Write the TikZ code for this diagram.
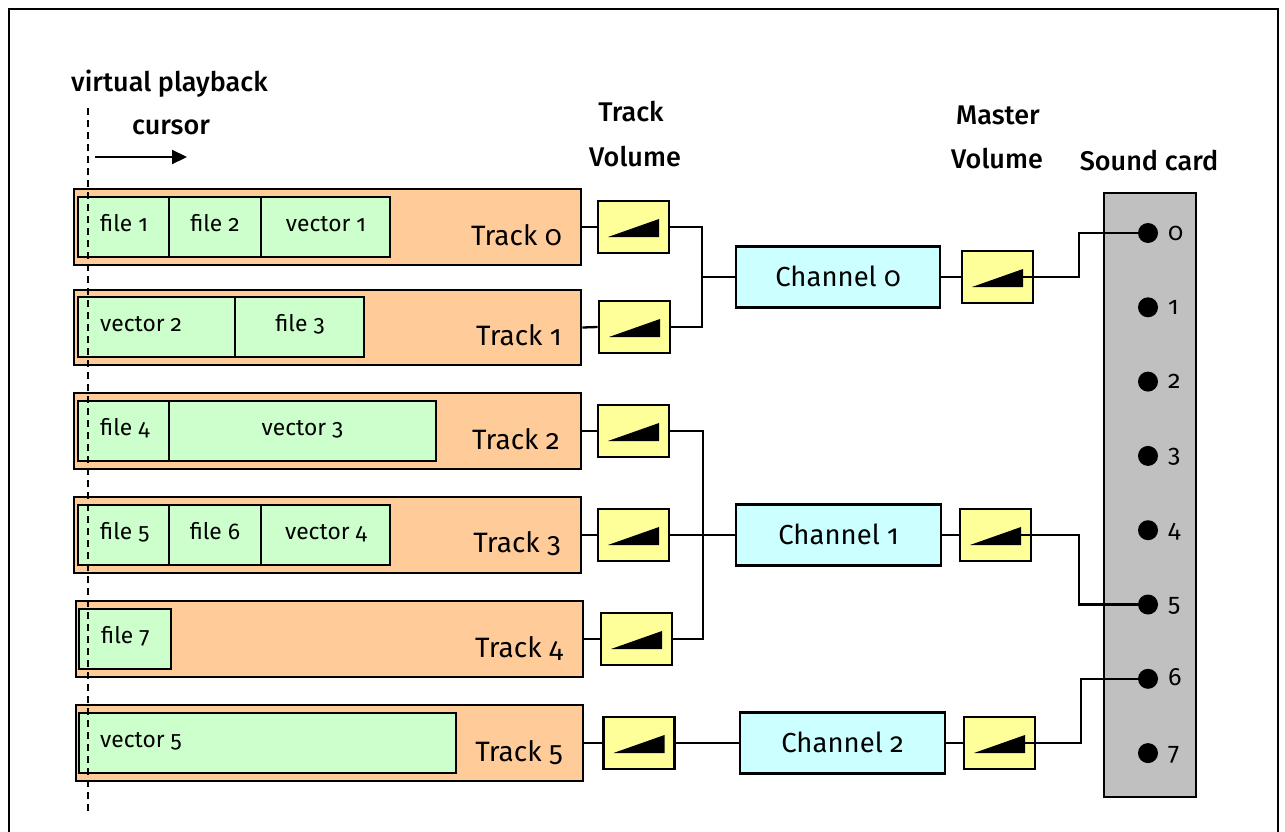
\documentclass[tikz,border=0pt]{standalone}
\usepackage{fontspec}
\setmainfont{Fira Sans}[Numbers=OldStyle, BoldFont={Fira Sans Medium}]
\usetikzlibrary{arrows.meta,calc}
\definecolor{trk}{HTML}{FFCC99}
\definecolor{clp}{HTML}{CCFFCC}
\definecolor{vol}{HTML}{FFFF99}
\definecolor{chn}{HTML}{CCFFFF}
\definecolor{card}{HTML}{C0C0C0}
\tikzset{
  trackbox/.style={draw=black, line width=2.9, fill=trk, inner sep=0, minimum height=76, minimum width=507},
  clipbox/.style={draw=black, line width=2.7, fill=clp, inner sep=0, minimum height=60},
  volbox/.style={draw=black, line width=2.7, fill=vol, inner sep=0, minimum width=71, minimum height=52,
    path picture={\fill[black] ($(path picture bounding box.center)+(-25.5,10)$) -- ++(51,-18) -- ++(0,18) -- cycle;}},
  chanbox/.style={draw=black, line width=2.7, fill=chn, inner sep=0, minimum width=205, minimum height=61},
  cardbox/.style={draw=black, line width=2.7, fill=card, inner sep=0},
  dotnode/.style={circle, fill=black, inner sep=0, minimum size=20},
  cliplbl/.style={inner sep=0, font=\fontsize{22.8}{26}\selectfont},
  trklbl/.style={inner sep=0, font=\fontsize{28}{32}\selectfont},
  chnlbl/.style={inner sep=0, font=\fontsize{27.5}{32}\selectfont},
  hdr/.style={inner sep=0, font=\bfseries\fontsize{27}{30}\selectfont},
  digit/.style={inner sep=0, font=\fontsize{25}{27}\selectfont},
  wire/.style={line width=2.3, draw=black},
}
\begin{document}
\begin{tikzpicture}[x=1pt,y=-1pt]
\useasboundingbox (0,0) rectangle (1285,832);
% frame
\draw[line width=2.2] (9,850) -- (9,9) -- (1278,9) -- (1278,850);

% headers
\node[hdr, anchor=base west] (vp1) at (71,92) {virtual playback};
\node[hdr, anchor=base west] (vp2) at (132,135) {cursor};
\node[hdr, anchor=base] (tv1) at (631,122) {Track};
\node[hdr, anchor=base] (tv2) at (635,166) {Volume};
\node[hdr, anchor=base] (mv1) at (998,125) {Master};
\node[hdr, anchor=base] (mv2) at (997,168) {Volume};
\node[hdr, anchor=base] (sc) at (1149,171) {Sound card};

% cursor arrow
\coordinate (ar0) at (95,157);
\coordinate (ar1) at (187,157);
\draw[line width=2.2, -{Triangle[length=15,width=14]}] (ar0) -- (ar1);

% tracks
\node[trackbox] (t0) at (327.5,227) {};
\node[trackbox, minimum height=75] (t1) at (327.5,327.5) {};
\node[trackbox] (t2) at (327.5,431) {};
\node[trackbox] (t3) at (327.5,535) {};
\node[trackbox] (t4) at (329.5,639) {};
\node[trackbox] (t5) at (329.5,743) {};

% clips
\node[clipbox, minimum width=91] (c01) at (123.5,227) {};
\node[clipbox, minimum width=92] (c02) at (215,227) {};
\node[clipbox, minimum width=129] (c03) at (325.5,227) {};
\node[clipbox, minimum width=157] (c11) at (156.5,327) {};
\node[clipbox, minimum width=129] (c12) at (299.5,327) {};
\node[clipbox, minimum width=91] (c21) at (123.5,431) {};
\node[clipbox, minimum width=267] (c22) at (302.5,431) {};
\node[clipbox, minimum width=91] (c31) at (123.5,535) {};
\node[clipbox, minimum width=92] (c32) at (215,535) {};
\node[clipbox, minimum width=129] (c33) at (325.5,535) {};
\node[clipbox, minimum width=92] (c41) at (125,639) {};
\node[clipbox, minimum width=377] (c51) at (267.5,743) {};

% clip labels
\node[cliplbl, anchor=base west] (l01) at (100,231) {file 1};
\node[cliplbl, anchor=base] (l02) at (215,231) {file 2};
\node[cliplbl, anchor=base] (l03) at (326,231) {vector 1};
\node[cliplbl, anchor=base west] (l11) at (100,331) {vector 2};
\node[cliplbl, anchor=base] (l12) at (300,331) {file 3};
\node[cliplbl, anchor=base west] (l21) at (100,435) {file 4};
\node[cliplbl, anchor=base] (l22) at (302.5,435) {vector 3};
\node[cliplbl, anchor=base west] (l31) at (100,539) {file 5};
\node[cliplbl, anchor=base] (l32) at (215,539) {file 6};
\node[cliplbl, anchor=base] (l33) at (326,539) {vector 4};
\node[cliplbl, anchor=base west] (l41) at (101,643) {file 7};
\node[cliplbl, anchor=base west] (l51) at (100,747) {vector 5};

% track labels
\node[trklbl, anchor=base east] (k0) at (562,245) {Track 0};
\node[trklbl, anchor=base east] (k1) at (562,345) {Track 1};
\node[trklbl, anchor=base east] (k2) at (560,449) {Track 2};
\node[trklbl, anchor=base east] (k3) at (561,552) {Track 3};
\node[trklbl, anchor=base east] (k4) at (563,657) {Track 4};
\node[trklbl, anchor=base east] (k5) at (563,761) {Track 5};

% track volumes
\node[volbox] (v0) at (633.5,227) {};
\node[volbox] (v1) at (634.5,327) {};
\node[volbox] (v2) at (633.5,431) {};
\node[volbox] (v3) at (633.5,535) {};
\node[volbox] (v4) at (636.5,639) {};
\node[volbox] (v5) at (639,743) {};

% channels
\node[chanbox, minimum width=204] (ch0) at (838,277) {};
\node[chanbox] (ch1) at (838.5,535) {};
\node[chanbox] (ch2) at (842.5,743) {};
\node[chnlbl, anchor=base] (n0) at (838,286) {Channel 0};
\node[chnlbl, anchor=base] (n1) at (838.5,544) {Channel 1};
\node[chnlbl, anchor=base] (n2) at (842.5,752) {Channel 2};

% master volumes
\node[volbox] (m0) at (997.5,277) {};
\node[volbox] (m1) at (995.5,535) {};
\node[volbox] (m2) at (999.5,743) {};

% sound card
\node[cardbox, minimum width=92, minimum height=604] (card) at (1150,495) {};
\foreach \i in {0,...,7} {
  \node[dotnode] (d\i) at (1148,{233+74.3*\i}) {};
  \node[digit, anchor=base west] (g\i) at (1168,{240+74.3*\i}) {\i};
}

% wires: tracks to volumes
\foreach \i in {0,...,5} { \draw[wire] (t\i.east) -- (v\i.west); }
% channel 0 bus
\coordinate (j0) at (702,277);
\draw[wire] (v0.east) -| (j0) |- (v1.east);
\draw[wire] (j0) -- (ch0.west);
% channel 1 bus
\coordinate (j1) at (703,535);
\draw[wire] (v2.east) -| (j1) |- (v4.east);
\draw[wire] (v3.east) -- (ch1.west);
% channel 2
\draw[wire] (v5.east) -- (ch2.west);
% channels to master volumes
\draw[wire] (ch0.east) -- (m0.west);
\draw[wire] (ch1.east) -- (m1.west);
\draw[wire] (ch2.east) -- (m2.west);
% master volumes to sound card
\coordinate (q0) at (1079,255);
\coordinate (q1) at (1079,570);
\coordinate (q2) at (1081,710);
\draw[wire] ($(m0.center)+(25.5,0)$) -| (q0) |- (d0);
\draw[wire] ($(m1.center)+(25.5,0)$) -| (q1) |- (d5);
\draw[wire] ($(m2.center)+(25.5,0)$) -| (q2) |- (d6);

% virtual playback cursor
\coordinate (cur0) at (88,108);
\coordinate (cur1) at (88,815);
\draw[line width=2.2, dash pattern=on 7pt off 5pt] (cur0) -- (cur1);
\end{tikzpicture}
\end{document}
